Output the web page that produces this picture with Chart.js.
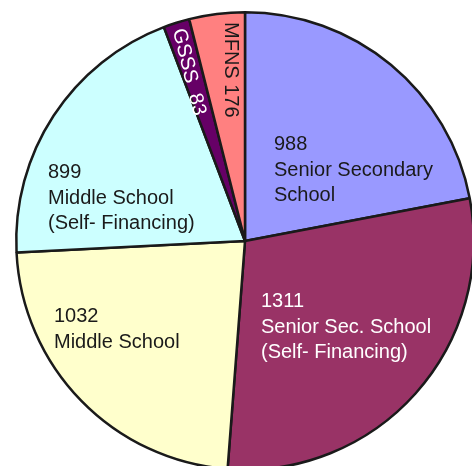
<!DOCTYPE html>
<html>
<head>
<meta charset="utf-8">
<script src="https://cdn.jsdelivr.net/npm/chart.js@4"></script>
<style>
  html, body { margin: 0; padding: 0; background: #fff; overflow: hidden; }
  canvas { display: block; }
</style>
</head>
<body>
<canvas id="myChart" width="500" height="500"></canvas>
<script>
'use strict'

//data
const schoolTypes = ['Senior Secondary School', 'Senior Sec. School (Self- Financing)', 'Middle School', 'Middle School (Self- Financing)', 'GSSS', 'MFNS'];
const schoolCounts = [988, 1311, 1032, 899, 83, 176];
const sliceColors = ['#9999ff', '#993366', '#ffffcc', '#ccffff', '#660066', '#ff8080'];

//label text lines per slice (number first, then name)
const labelLines = [
  ['988', 'Senior Secondary', 'School'],
  ['1311', 'Senior Sec. School', '(Self- Financing)'],
  ['1032', 'Middle School'],
  ['899', 'Middle School', '(Self- Financing)'],
  ['GSSS  83'],
  ['MFNS 176']
];

//where each label sits, relative to pie centre (px), rotation in degrees
const labelPlace = [
  { dx: 29, dy: -91, rot: 0, color: '#1a1a1a' },
  { dx: 16, dy: 66, rot: 0, color: '#ffffff' },
  { dx: -191, dy: 81, rot: 0, color: '#1a1a1a' },
  { dx: -197, dy: -63, rot: 0, color: '#1a1a1a' },
  { dx: -67, dy: -212, rot: 76, color: '#ffffff' },
  { dx: -14, dy: -219, rot: 90, color: '#1a1a1a' }
];

const sliceLabels = {
  id: 'sliceLabels',
  afterDatasetsDraw(chart) {
    const ctx = chart.ctx;
    const arc = chart.getDatasetMeta(0).data[0];
    const cx = arc.x;
    const cy = arc.y;
    ctx.save();
    ctx.font = '20px "Liberation Sans", Arial, sans-serif';
    for (let i = 0; i < labelLines.length; i++) {
      let p = labelPlace[i];
      ctx.fillStyle = p.color;
      if (p.rot === 0) {
        ctx.textAlign = 'left';
        ctx.textBaseline = 'alphabetic';
        for (let j = 0; j < labelLines[i].length; j++) {
          ctx.fillText(labelLines[i][j], cx + p.dx, cy + p.dy + j * 25.5);
        }
      } else {
        ctx.save();
        ctx.translate(cx + p.dx, cy + p.dy);
        ctx.rotate(p.rot * Math.PI / 180);
        ctx.textAlign = 'left';
        ctx.textBaseline = 'middle';
        ctx.fillText(labelLines[i][0], 0, 0);
        ctx.restore();
      }
    }
    ctx.restore();
  }
};

const data = {
  labels: schoolTypes,
  datasets: [{
    data: schoolCounts,
    backgroundColor: sliceColors,
    borderColor: '#1a1a1a',
    borderWidth: 2.5
  }]
};

const config = {
  type: 'pie',
  data: data,
  options: {
    responsive: false,
    animation: false,
    layout: {
      padding: { left: 15, top: 11, right: 25, bottom: 29 }
    },
    plugins: {
      legend: { display: false },
      tooltip: { enabled: false }
    }
  },
  plugins: [sliceLabels]
};

let canvasChart = document.getElementById('myChart');
const myChart = new Chart(canvasChart, config);
</script>
</body>
</html>
